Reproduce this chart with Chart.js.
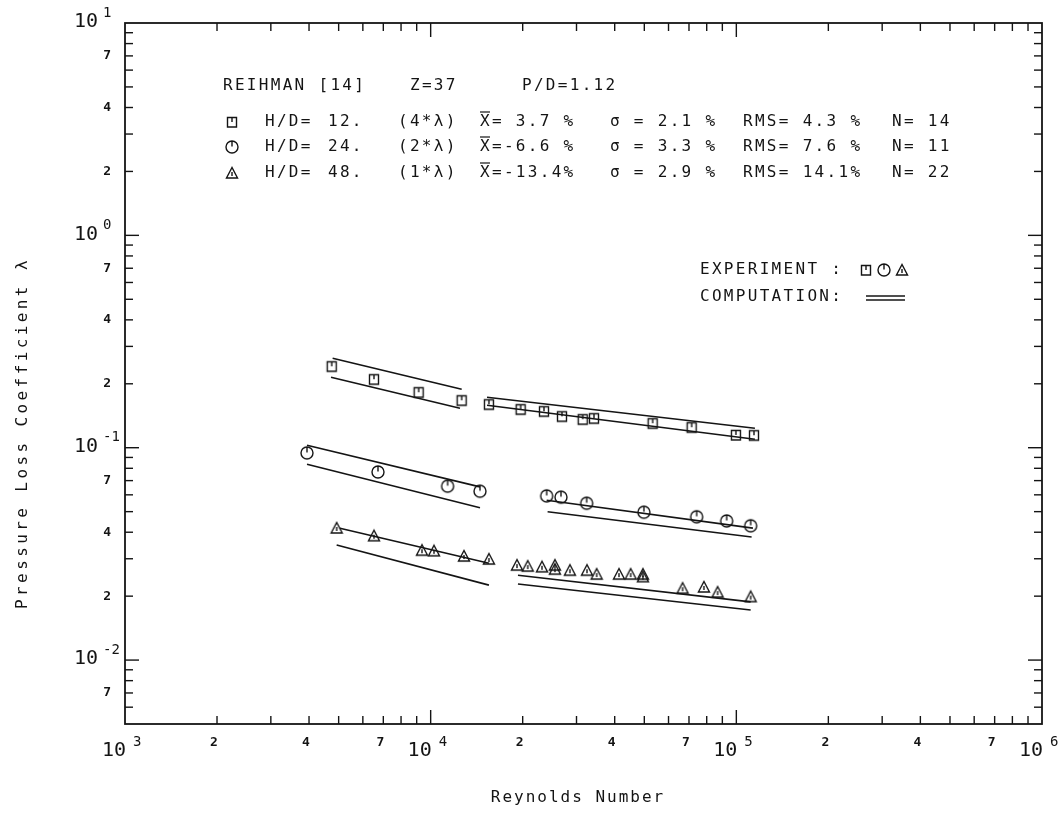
<!DOCTYPE html>
<html><head><meta charset="utf-8">
<script src="https://cdn.jsdelivr.net/npm/chart.js@4/dist/chart.umd.min.js"></script>
<style>html,body{margin:0;padding:0;background:#fff;}</style>
</head><body>
<canvas id="c" width="1062" height="814"></canvas>
<script>
// ---------- data (plotted values) ----------
const squareRe = [4745, 6524, 9135, 12630, 15510, 19700, 23480, 26890, 31430, 34220, 53230, 71410, 99700, 114200];
const squareLambda = [0.2418, 0.2101, 0.1825, 0.1673, 0.1602, 0.1518, 0.1485, 0.1406, 0.1362, 0.1377, 0.1304, 0.1249, 0.1149, 0.1145];
const circleRe = [3939, 6723, 11360, 14500, 23960, 26690, 32380, 49840, 74150, 92970, 111400];
const circleLambda = [0.0945, 0.0769, 0.0659, 0.0624, 0.0593, 0.0585, 0.0548, 0.0497, 0.0473, 0.0452, 0.0429];
const triangleRe = [4925, 6524, 9365, 10250, 12850, 15510, 19160, 20770, 23130, 25500, 25500, 28550, 32460, 34920, 41300, 45110, 49480, 49480, 66720, 78340, 86850, 111400];
const triangleLambda = [0.0419, 0.0385, 0.0329, 0.0327, 0.0309, 0.0299, 0.0280, 0.0277, 0.0275, 0.0280, 0.0268, 0.0265, 0.0265, 0.0254, 0.0254, 0.0254, 0.0254, 0.0247, 0.0218, 0.0221, 0.0209, 0.0199];
// computation segments: [Re start, lambda start, Re end, lambda end]
const compSquare = [[4779, 0.2637, 12630, 0.1885], [4719, 0.2147, 12470, 0.1534], [15290, 0.1728, 115000, 0.1235], [15290, 0.1585, 115000, 0.1096]];
const compCircle = [[3939, 0.1027, 14500, 0.0654], [3939, 0.0836, 14500, 0.0521], [23960, 0.0566, 113300, 0.0418], [24130, 0.0499, 112200, 0.0380]];
const compTriangle = [[5049, 0.0418, 15510, 0.0286], [4925, 0.0348, 15510, 0.02254], [19300, 0.0251, 111400, 0.0188], [19300, 0.0228, 111400, 0.0172]];
// axes and tick labels
const xRange = [1e3, 1e6];
const yRange = [5e-3, 10];
const xMajorExponents = [3, 4, 5, 6];
const yMajorExponents = [-2, -1, 0, 1];
const minorLabelDigits = [2, 4, 7];
const xTitle = 'Reynolds Number';
const yTitle = 'Pressure Loss Coefficient \u03bb';
const headerTexts = ['REIHMAN [14]', 'Z=37', 'P/D=1.12'];
const rowHD = ['12.', '24.', '48.'];
const rowFactor = ['(4*\u03bb)', '(2*\u03bb)', '(1*\u03bb)'];
const rowMean = ['= 3.7 %', '=-6.6 %', '=-13.4%'];
const rowSigma = ['\u03c3 = 2.1 %', '\u03c3 = 3.3 %', '\u03c3 = 2.9 %'];
const rowRMS = ['RMS= 4.3 %', 'RMS= 7.6 %', 'RMS= 14.1%'];
const rowN = ['N= 14', 'N= 11', 'N= 22'];

// ---------- markers ----------
const INK = '#141414';
function makeMarker(kind) {
  const s = 16, cv = document.createElement('canvas');
  cv.width = s; cv.height = s;
  const g = cv.getContext('2d');
  g.strokeStyle = INK; g.lineWidth = 1.4;
  g.beginPath();
  if (kind === 'square') {
    g.rect(3.5, 3.5, 9, 9.5);
    g.moveTo(8, 3.5); g.lineTo(8, 8);
  } else if (kind === 'circle') {
    g.arc(8, 8, 6, 0, Math.PI * 2);
    g.moveTo(8, 2); g.lineTo(8, 7.5);
  } else {
    g.moveTo(8, 2.5); g.lineTo(2.5, 13); g.lineTo(13.5, 13); g.closePath();
    g.moveTo(8, 7); g.lineTo(8, 11);
  }
  g.stroke();
  return cv;
}
const mSquare = makeMarker('square'), mCircle = makeMarker('circle'), mTri = makeMarker('triangle');

function pts(xs, ys) { return xs.map((v, i) => ({x: v, y: ys[i]})); }
function segDatasets(segs) {
  return segs.map(s => ({
    data: [{x: s[0], y: s[1]}, {x: s[2], y: s[3]}],
    showLine: true, borderColor: INK, borderWidth: 1.6, pointRadius: 0, fill: false
  }));
}
const datasets = [
  ...segDatasets(compSquare), ...segDatasets(compCircle), ...segDatasets(compTriangle),
  {data: pts(squareRe, squareLambda), pointStyle: mSquare, pointRadius: 6, showLine: false},
  {data: pts(circleRe, circleLambda), pointStyle: mCircle, pointRadius: 6, showLine: false},
  {data: pts(triangleRe, triangleLambda), pointStyle: mTri, pointRadius: 6, showLine: false}
];

const MONO = '"DejaVu Sans Mono", "Liberation Mono", monospace';
function txt(ctx, s, x, y, font, align, spacing) {
  ctx.font = font; ctx.textAlign = align || 'left'; ctx.textBaseline = 'middle';
  ctx.letterSpacing = (spacing || 0) + 'px';
  ctx.fillText(s, x, y);
}

const plotterPlugin = {
  id: 'plotter',
  afterDraw(chart) {
    const {ctx, chartArea: a, scales: {x, y}} = chart;
    ctx.save();
    ctx.strokeStyle = INK; ctx.fillStyle = INK;
    const line = (x1, y1, x2, y2) => { ctx.beginPath(); ctx.moveTo(x1, y1); ctx.lineTo(x2, y2); ctx.stroke(); };
    ctx.lineWidth = 1.8;
    ctx.strokeRect(a.left, a.top, a.right - a.left, a.bottom - a.top);
    ctx.lineWidth = 1.4;
    // x ticks (inward, bottom and top)
    for (let e = 3; e <= 6; e++) for (let k = 1; k <= 9; k++) {
      const v = k * Math.pow(10, e);
      if (v <= xRange[0] * 1.0001 || v >= xRange[1] * 0.9999) continue;
      const px = x.getPixelForValue(v), L = k === 1 ? 14 : 8;
      line(px, a.bottom, px, a.bottom - L); line(px, a.top, px, a.top + L);
    }
    // y ticks (inward, left and right)
    for (let e = -3; e <= 1; e++) for (let k = 1; k <= 9; k++) {
      const v = k * Math.pow(10, e);
      if (v <= yRange[0] * 1.0001 || v >= yRange[1] * 0.9999) continue;
      const py = y.getPixelForValue(v), L = k === 1 ? 14 : 8;
      line(a.left, py, a.left + L, py); line(a.right, py, a.right - L, py);
    }
    // x tick labels
    xMajorExponents.forEach(e => {
      const px = x.getPixelForValue(Math.pow(10, e));
      txt(ctx, '10', px + 1, a.bottom + 27, '20px ' + MONO, 'right');
      txt(ctx, String(e), px + 8, a.bottom + 18, '14px ' + MONO, 'left');
      if (e < 6) minorLabelDigits.forEach(d => {
        const p2 = x.getPixelForValue(d * Math.pow(10, e));
        txt(ctx, String(d), p2 - 3, a.bottom + 19, 'bold 13px ' + MONO, 'center');
      });
    });
    // y tick labels
    yMajorExponents.forEach(e => {
      const py = y.getPixelForValue(Math.pow(10, e));
      txt(ctx, '10', a.left - 27, py - 1, '20px ' + MONO, 'right');
      txt(ctx, String(e), a.left - 22, py - 10, '14px ' + MONO, 'left');
    });
    for (let e = -3; e <= 0; e++) minorLabelDigits.forEach(d => {
      const v = d * Math.pow(10, e);
      if (v < yRange[0] || v > yRange[1]) return;
      txt(ctx, String(d), a.left - 14, y.getPixelForValue(v), 'bold 13px ' + MONO, 'right');
    });
    // axis titles
    txt(ctx, xTitle, 578, 798, '16px ' + MONO, 'center', 2);
    ctx.save(); ctx.translate(23, 433); ctx.rotate(-Math.PI / 2);
    txt(ctx, yTitle, 0, 0, '16px ' + MONO, 'center', 3.4);
    ctx.restore();
    // header
    const F = '16px ' + MONO, SP = 2.3;
    txt(ctx, headerTexts[0], 223, 86, F, 'left', SP);
    txt(ctx, headerTexts[1], 410, 86, F, 'left', SP);
    txt(ctx, headerTexts[2], 522, 86, F, 'left', SP);
    const marks = [mSquare, mCircle, mTri];
    [122, 147, 173].forEach((ry, i) => {
      ctx.drawImage(marks[i], 232 - 8, ry - 8);
      txt(ctx, 'H/D=', 265, ry, F, 'left', SP);
      txt(ctx, rowHD[i], 328, ry, F, 'left', SP);
      txt(ctx, rowFactor[i], 398, ry, F, 'left', SP);
      txt(ctx, 'X', 480, ry, F, 'left', SP);
      ctx.lineWidth = 1.2; line(480, ry - 10, 490, ry - 10);
      txt(ctx, rowMean[i], 492, ry, F, 'left', SP);
      txt(ctx, rowSigma[i], 610, ry, F, 'left', SP);
      txt(ctx, rowRMS[i], 743, ry, F, 'left', SP);
      txt(ctx, rowN[i], 892, ry, F, 'left', SP);
    });
    // legend
    txt(ctx, 'EXPERIMENT :', 700, 270, F, 'left', SP);
    ctx.drawImage(mSquare, 866 - 8, 270 - 8);
    ctx.drawImage(mCircle, 884 - 8, 270 - 8);
    ctx.drawImage(mTri, 902 - 8, 270 - 8);
    txt(ctx, 'COMPUTATION:', 700, 297, F, 'left', SP);
    ctx.lineWidth = 1.3;
    line(866, 296, 905, 296); line(866, 300, 905, 300);
    ctx.restore();
  }
};

new Chart(document.getElementById('c'), {
  type: 'scatter',
  data: {datasets},
  options: {
    responsive: false, animation: false, devicePixelRatio: 1,
    layout: {padding: {left: 125, right: 20, top: 23, bottom: 90}},
    scales: {
      x: {type: 'logarithmic', min: xRange[0], max: xRange[1], display: false},
      y: {type: 'logarithmic', min: yRange[0], max: yRange[1], display: false}
    },
    plugins: {legend: {display: false}, tooltip: {enabled: false}},
    elements: {line: {tension: 0}}
  },
  plugins: [plotterPlugin]
});
</script>
</body></html>
